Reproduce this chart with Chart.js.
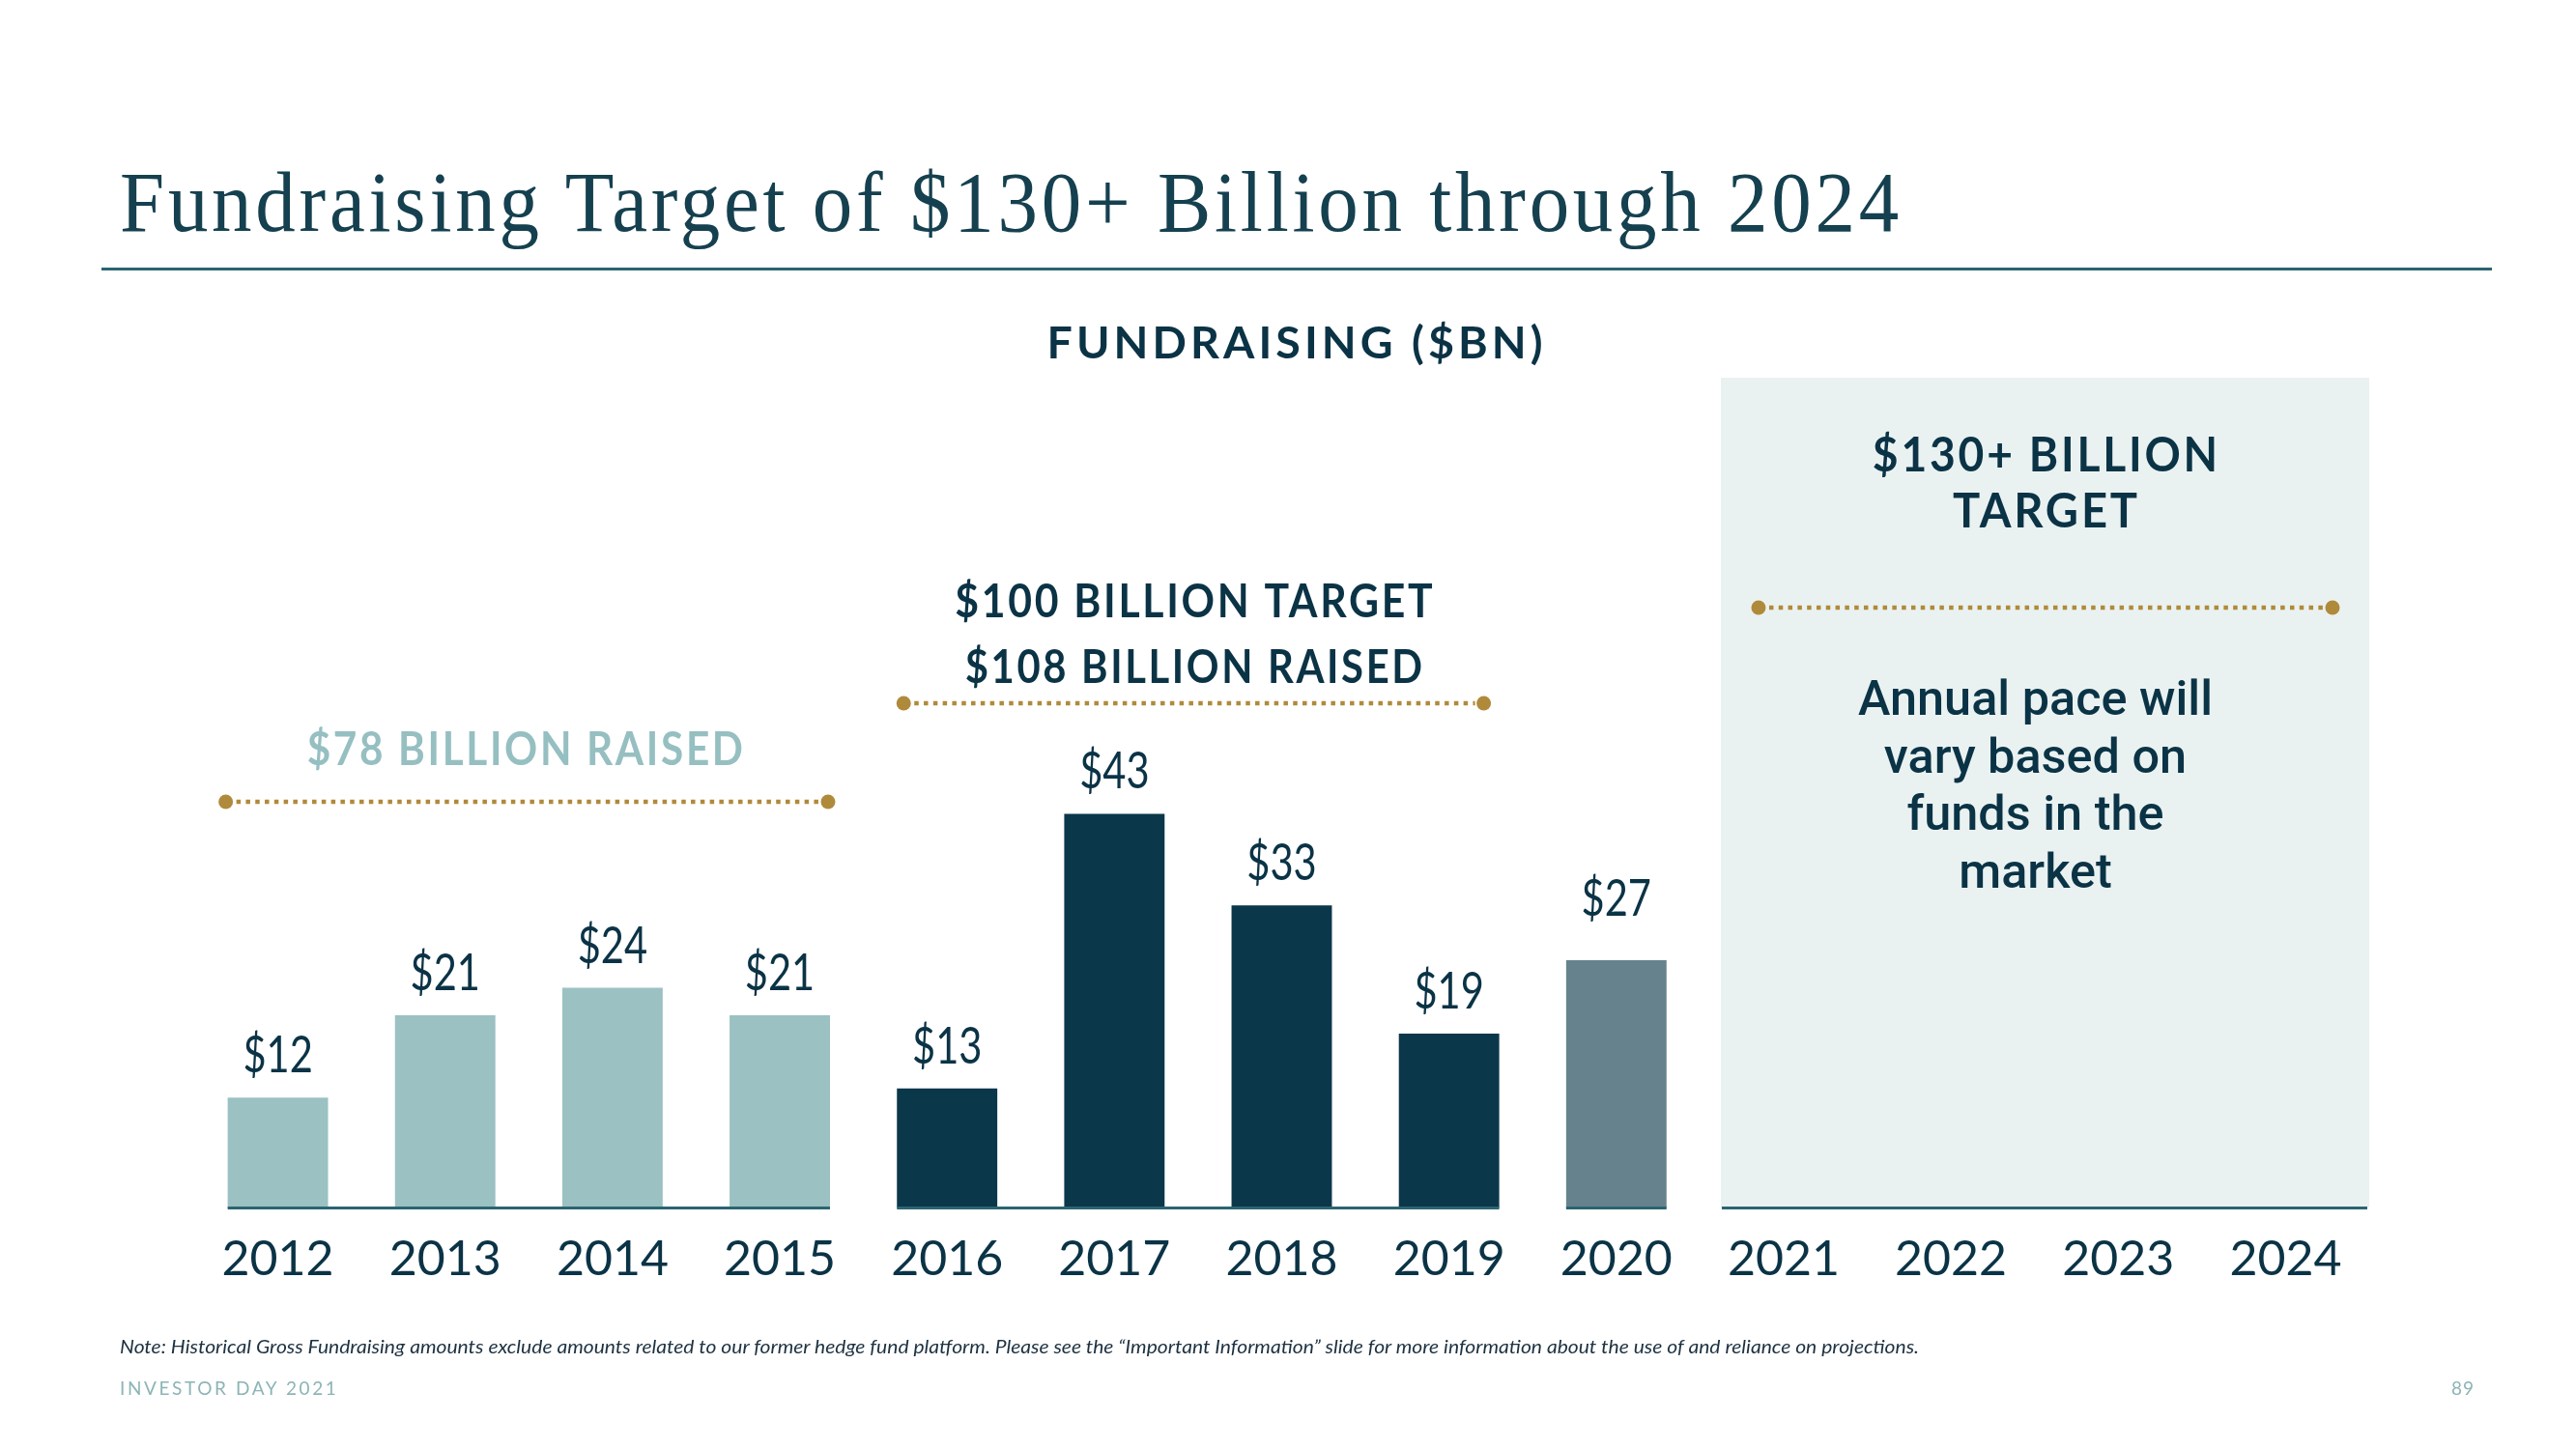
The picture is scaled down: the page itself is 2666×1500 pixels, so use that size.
<!DOCTYPE html>
<html lang="en">
<head>
<meta charset="UTF-8">
<title>Fundraising Target of $130+ Billion through 2024</title>
<script src="https://cdn.jsdelivr.net/npm/chart.js"></script>
<style>
    body {
        margin: 0;
        width: 2666px;
        height: 1500px;
        background: #ffffff;
        position: relative;
        overflow: hidden;
        font-family: Lato, sans-serif;
    }

    .page-title {
        position: absolute;
        left: 124px;
        top: 166px;
        margin: 0;
        font-family: "Liberation Serif", serif;
        font-weight: normal;
        font-size: 88px;
        letter-spacing: 4px;
        line-height: 1;
        color: #15404f;
        white-space: nowrap;
        transform-origin: left top;
    }

    .title-rule {
        position: absolute;
        left: 105px;
        top: 277px;
        width: 2474px;
        height: 3px;
        background: #2b6571;
    }

    .chart-box {
        position: absolute;
        left: 0;
        top: 0;
        width: 2666px;
        height: 1500px;
    }

    .note {
        position: absolute;
        left: 124px;
        top: 1383px;
        font-style: italic;
        font-size: 20px;
        line-height: 1;
        color: #1d3140;
        white-space: nowrap;
        transform-origin: left top;
    }

    .footer {
        position: absolute;
        top: 1427px;
        font-size: 19px;
        line-height: 1;
        letter-spacing: 2.6px;
        color: #8db4b6;
        white-space: nowrap;
    }
</style>
</head>
<body>
    <h1 class="page-title" id="page-title">Fundraising Target of $130+ Billion through 2024</h1>
    <div class="title-rule"></div>

    <div class="chart-box">
        <canvas id="fundraising-chart"></canvas>
    </div>

    <div class="note" id="note">Note: Historical Gross Fundraising amounts exclude amounts related to our former hedge fund platform. Please see the “Important Information” slide for more information about the use of and reliance on projections.</div>
    <div class="footer" style="left:124px;">INVESTOR DAY 2021</div>
    <div class="footer" style="right:105px; letter-spacing:1px;">89</div>

<script>
    // data
    const years = ['2012', '2013', '2014', '2015', '2016', '2017', '2018', '2019', '2020', '2021', '2022', '2023', '2024'];
    const raised = [12, 21, 24, 21, 13, 43, 33, 19, 27, null, null, null, null];
    const periodYears = [['2012', '2015'], ['2016', '2019'], ['2021', '2024']];
    const periodTitles = [
        ['$78 BILLION RAISED'],
        ['$100 BILLION TARGET', '$108 BILLION RAISED'],
        ['$130+ BILLION', 'TARGET']
    ];
    const outlookLines = ['Annual pace will', 'vary based on', 'funds in the', 'market'];
    const chartHeading = 'FUNDRAISING ($BN)';

    const INK = '#0b3346';
    const GOLD = '#b08a3b';
    const AXIS = '#2b6571';

    function barColor(year) {
        if (year <= 2015) return '#9bc1c2';
        if (year <= 2019) return '#0b374a';
        return '#66838d';
    }

    // squeeze text to a given width (or by a factor), centred on cx
    function drawText(ctx, text, cx, y, o) {
        ctx.save();
        ctx.font = o.font;
        ctx.letterSpacing = (o.spacing || 0) + 'px';
        ctx.fillStyle = o.color || INK;
        ctx.textAlign = 'center';
        ctx.textBaseline = 'alphabetic';
        let sx = o.sx || 1;
        if (o.width) sx = o.width / ctx.measureText(text).width;
        ctx.translate(cx, y);
        ctx.scale(sx, 1);
        ctx.fillText(text, (o.spacing || 0) / 2, 0);
        ctx.restore();
    }

    function dottedRule(ctx, x1, x2, y) {
        ctx.save();
        ctx.strokeStyle = GOLD;
        ctx.fillStyle = GOLD;
        ctx.lineWidth = 4.5;
        ctx.setLineDash([4.5, 5.3]);
        ctx.beginPath();
        ctx.moveTo(x1 + 11, y);
        ctx.lineTo(x2 - 9, y);
        ctx.stroke();
        ctx.setLineDash([]);
        [x1, x2].forEach(x => {
            ctx.beginPath();
            ctx.arc(x, y, 7.5, 0, Math.PI * 2);
            ctx.fill();
        });
        ctx.restore();
    }

    const slidePlugin = {
        id: 'slide',
        beforeDatasetsDraw(chart) {
            const ctx = chart.ctx;
            const x = chart.scales.x;
            const area = chart.chartArea;
            const boxLeft = x.getPixelForValue(years.indexOf(periodYears[2][0])) - 65;
            ctx.save();
            ctx.fillStyle = '#eaf2f1';
            ctx.fillRect(boxLeft, area.top - 6, area.right - boxLeft, area.bottom - area.top + 6);
            ctx.restore();
        },
        afterDatasetsDraw(chart) {
            const ctx = chart.ctx;
            const x = chart.scales.x;
            const area = chart.chartArea;
            const bars = chart.getDatasetMeta(0).data;
            const half = bars[0].width / 2;
            const left = y => x.getPixelForValue(years.indexOf(y)) - half;
            const right = y => x.getPixelForValue(years.indexOf(y)) + half;
            const boxLeft = x.getPixelForValue(years.indexOf(periodYears[2][0])) - 65;
            const boxRight = area.right;

            // value labels (the 2020 label sits a little higher on the slide)
            bars.forEach((bar, i) => {
                if (raised[i] == null) return;
                const gap = years[i] === '2020' ? 46 : 26;
                drawText(ctx, '$' + raised[i], bar.x, bar.y - gap, { font: '400 52px Lato', sx: 0.8 });
            });

            // axis segments
            ctx.save();
            ctx.strokeStyle = AXIS;
            ctx.lineWidth = 3;
            const axisY = area.bottom + 0.5;
            [[left('2012'), right('2015')], [left('2016'), right('2019')], [left('2020'), right('2020')], [boxLeft + 1, boxRight - 2]]
                .forEach(([a, b]) => {
                    ctx.beginPath();
                    ctx.moveTo(a, axisY);
                    ctx.lineTo(b, axisY);
                    ctx.stroke();
                });
            ctx.restore();

            // heading
            drawText(ctx, chartHeading, 1340, 371, { font: '700 46px Lato', spacing: 4, width: 517 });

            // period 1
            const p1a = left(periodYears[0][0]), p1b = right(periodYears[0][1]);
            drawText(ctx, periodTitles[0][0], (p1a + p1b) / 2 - 4, 792, { font: '700 48px Lato', spacing: 3, width: 454, color: '#96bfc1' });
            dottedRule(ctx, p1a - 2, p1b - 2, 830);

            // period 2
            const p2a = left(periodYears[1][0]) + 7, p2b = right(periodYears[1][1]) - 16;
            const c2 = (p2a + p2b) / 2;
            drawText(ctx, periodTitles[1][0], c2, 639, { font: '700 48px Lato', spacing: 3, width: 497 });
            drawText(ctx, periodTitles[1][1], c2, 707, { font: '700 48px Lato', spacing: 3, width: 476 });
            dottedRule(ctx, p2a, p2b, 728);

            // period 3 (target box)
            const c3 = (boxLeft + boxRight) / 2;
            drawText(ctx, periodTitles[2][0], c3, 488, { font: '700 50px Lato', spacing: 3, width: 360 });
            drawText(ctx, periodTitles[2][1], c3, 546, { font: '700 50px Lato', spacing: 3, width: 194 });
            dottedRule(ctx, boxLeft + 39, boxRight - 38, 629);

            ctx.save();
            ctx.font = '500 50px Roboto';
            const sx = 367 / ctx.measureText(outlookLines[0]).width;
            ctx.restore();
            outlookLines.forEach((line, i) => {
                drawText(ctx, line, c3 - 10, 740 + i * 59.5, { font: '500 50px Roboto', sx: sx });
            });
        }
    };

    const ctx = document.getElementById('fundraising-chart').getContext('2d');
    new Chart(ctx, {
        type: 'bar',
        data: {
            labels: years,
            datasets: [{
                label: 'Fundraising ($BN)',
                data: raised,
                backgroundColor: years.map(y => barColor(+y)),
                borderWidth: 0,
                barPercentage: 0.6,
                categoryPercentage: 1
            }]
        },
        options: {
            responsive: true,
            maintainAspectRatio: false,
            animation: false,
            events: [],
            layout: {
                padding: { left: 201, right: 214, top: 397, bottom: 0 }
            },
            plugins: {
                legend: { display: false },
                tooltip: { enabled: false }
            },
            scales: {
                x: {
                    grid: { display: false, drawTicks: false },
                    border: { display: false },
                    ticks: {
                        color: INK,
                        padding: 24,
                        font: { family: 'Lato', size: 50, weight: '400' }
                    },
                    afterFit(scale) {
                        scale.height = 250;
                    }
                },
                y: {
                    display: false,
                    min: 0,
                    max: 90
                }
            }
        },
        plugins: [slidePlugin]
    });

    // fit title and note to the slide widths
    function fitWidth(id, target) {
        const el = document.getElementById(id);
        const w = el.getBoundingClientRect().width;
        el.style.transform = 'scaleX(' + (target / w) + ')';
    }
    fitWidth('page-title', 1845);
    fitWidth('note', 1862);
</script>
</body>
</html>
